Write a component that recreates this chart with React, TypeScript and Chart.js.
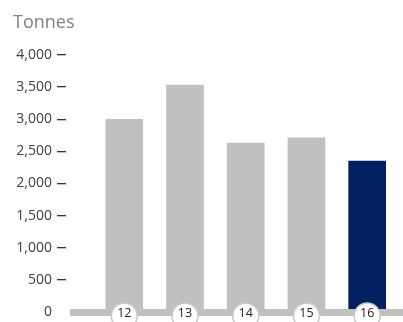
import React, { useEffect, useRef } from "react";
import { Chart, registerables } from "chart.js";

Chart.register(...registerables);

const years = ["12", "13", "14", "15", "16"];
const yearNums = [12, 13, 14, 15, 16];
const tonnes = [3000, 3530, 2630, 2710, 2350];
const barColors = ["#bfc0bf", "#bfc0bf", "#bfc0bf", "#bfc0bf", "#002060"];
const yTicks = [0, 500, 1000, 1500, 2000, 2500, 3000, 3500, 4000];
const axisTitle = "Tonnes";

const FONT = "'Open Sans', 'Noto Sans', sans-serif";

const decorPlugin = {
  id: "decor",
  afterDatasetsDraw(chart: any) {
    const ctx = chart.ctx;
    const x = chart.scales.x;
    const y = chart.scales.y;
    const base = y.getPixelForValue(0);
    ctx.save();
    ctx.fillStyle = "#c0c0c0";
    ctx.fillRect(70, base - 3, chart.width - 70, 7);
    years.forEach((lab, i) => {
      const cx = x.getPixelForValue(yearNums[i]);
      const cy = base + 4;
      ctx.beginPath();
      ctx.arc(cx, cy, 13, 0, Math.PI * 2);
      ctx.fillStyle = "#ffffff";
      ctx.fill();
      ctx.lineWidth = 1.5;
      ctx.strokeStyle = "#c8c8c8";
      ctx.stroke();
      ctx.fillStyle = "#222222";
      ctx.font = `12.5px ${FONT}`;
      ctx.textAlign = "center";
      ctx.textBaseline = "middle";
      ctx.fillText(lab, cx, base + 1.5);
    });
    ctx.fillStyle = "#808080";
    ctx.font = `18px ${FONT}`;
    ctx.textAlign = "left";
    ctx.textBaseline = "alphabetic";
    ctx.fillText(axisTitle, 13, 28);
    ctx.restore();
  },
};

export default function App() {
  const ref = useRef<HTMLCanvasElement>(null);
  useEffect(() => {
    document.body.style.margin = "0";
    const chart = new Chart(ref.current!, {
      type: "bar",
      data: {
        datasets: [
          {
            data: yearNums.map((v, i) => ({ x: v, y: tonnes[i] })),
            backgroundColor: barColors,
            barThickness: 37,
            borderWidth: 0,
          },
        ],
      },
      options: {
        animation: false,
        responsive: false,
        maintainAspectRatio: false,
        layout: { padding: { top: 55, bottom: 10, left: 0, right: 0 } },
        plugins: { legend: { display: false }, tooltip: { enabled: false }, title: { display: false } },
        scales: {
          x: {
            type: "linear",
            display: false,
            offset: false,
            bounds: "ticks",
            min: 11.04,
            max: 16.59,
          },
          y: {
            min: 0,
            max: 4000,
            afterFit(scale: any) {
              scale.width = 66;
              scale.paddingTop = 0;
              scale.paddingBottom = 0;
            },
            afterBuildTicks(scale: any) {
              scale.ticks = yTicks.map((v) => ({ value: v }));
            },
            border: { display: false },
            grid: {
              drawOnChartArea: false,
              drawTicks: true,
              tickLength: 9,
              lineWidth: 1.3,
              tickColor: (c: any) => (c.tick && c.tick.value === 0 ? "rgba(0,0,0,0)" : "#333333"),
            },
            ticks: {
              padding: 5,
              color: "#404040",
              font: { family: FONT, size: 14 },
              callback: (v: any) => Number(v).toLocaleString("en-US"),
            },
          },
        },
      },
      plugins: [decorPlugin],
    });
    return () => chart.destroy();
  }, []);
  return (
    <div style={{ position: "absolute", left: 0, top: 0, width: 403, height: 322 }}>
      <canvas ref={ref} width={403} height={322} />
    </div>
  );
}
